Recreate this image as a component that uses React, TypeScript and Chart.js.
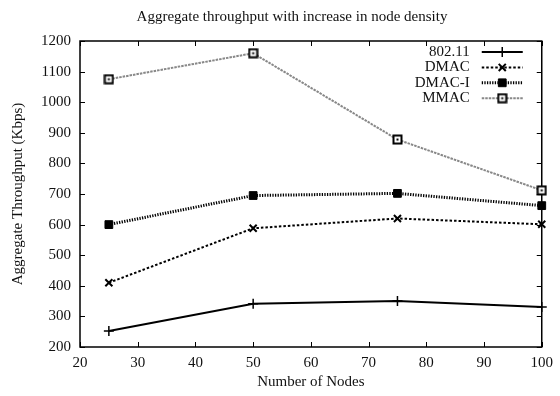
import React, { useEffect, useRef } from 'react';
import { Chart, registerables } from 'chart.js';
import { drawPoint } from 'chart.js/helpers';

Chart.register(...registerables);

const TITLE = 'Aggregate throughput with increase in node density';
const X_TITLE = 'Number of Nodes';
const Y_TITLE = 'Aggregate Throughput (Kbps)';
const nodes = [25, 50, 75, 100];
const seriesNames = ['802.11', 'DMAC', 'DMAC-I', 'MMAC'];
const values80211 = [252, 341, 350, 331];
const valuesDMAC = [410, 588, 620, 601];
const valuesDMACI = [600, 695, 702, 662];
const valuesMMAC = [1075, 1160, 878, 712];
const xTicks = { min: 20, max: 100, step: 10 };
const yTicks = { min: 200, max: 1200, step: 100 };

const FONT = '"Liberation Serif", "Times New Roman", serif';
const FS = 15;

function makeMMACMarker(): HTMLCanvasElement {
  const c = document.createElement('canvas');
  c.width = 11;
  c.height = 11;
  const g = c.getContext('2d')!;
  g.fillStyle = '#fff';
  g.fillRect(1, 1, 9, 9);
  g.strokeStyle = '#000';
  g.lineWidth = 2;
  g.strokeRect(1.5, 1.5, 8, 8);
  g.fillStyle = '#000';
  g.fillRect(4.5, 4.5, 2, 2);
  return c;
}

const framePlugin = {
  id: 'gpFrame',
  beforeDatasetsDraw(chart: any) {
    const { ctx, chartArea } = chart;
    const { left, right, top, bottom } = chartArea;
    const xs = chart.scales.x;
    const ys = chart.scales.y;
    const tl = 5;
    ctx.save();
    ctx.strokeStyle = '#000';
    ctx.lineWidth = 1;
    ctx.beginPath();
    xs.ticks.forEach((t: any) => {
      const px = Math.round(xs.getPixelForValue(t.value)) + 0.5;
      ctx.moveTo(px, bottom);
      ctx.lineTo(px, bottom - tl);
      ctx.moveTo(px, top);
      ctx.lineTo(px, top + tl);
    });
    ys.ticks.forEach((t: any) => {
      const py = Math.round(ys.getPixelForValue(t.value)) + 0.5;
      ctx.moveTo(left, py);
      ctx.lineTo(left + tl, py);
      ctx.moveTo(right, py);
      ctx.lineTo(right - tl, py);
    });
    ctx.stroke();
    ctx.lineWidth = 1.5;
    ctx.strokeRect(left, top, right - left, bottom - top);
    ctx.restore();
  },
};

const titlePlugin = {
  id: 'gpTitle',
  afterDraw(chart: any) {
    const { ctx } = chart;
    ctx.save();
    ctx.font = `${FS}px ${FONT}`;
    ctx.fillStyle = '#111';
    ctx.textAlign = 'center';
    ctx.textBaseline = 'middle';
    ctx.fillText(TITLE, 292, 17);
    ctx.restore();
  },
};

const legendPlugin = {
  id: 'gpLegend',
  afterDraw(chart: any) {
    const { ctx, chartArea } = chart;
    const r = chartArea.right;
    ctx.save();
    ctx.font = `${FS}px ${FONT}`;
    ctx.textAlign = 'right';
    ctx.textBaseline = 'middle';
    chart.data.datasets.forEach((ds: any, i: number) => {
      const y = 52 + i * 15.4;
      ctx.fillStyle = '#111';
      ctx.fillText(ds.label, r - 72, y);
      ctx.strokeStyle = ds.borderColor;
      ctx.lineWidth = ds.borderWidth;
      ctx.setLineDash(ds.borderDash || []);
      ctx.beginPath();
      ctx.moveTo(r - 60, y);
      ctx.lineTo(r - 19, y);
      ctx.stroke();
      ctx.setLineDash([]);
      ctx.fillStyle = ds.pointBackgroundColor;
      ctx.strokeStyle = ds.pointBorderColor;
      ctx.lineWidth = ds.pointBorderWidth;
      drawPoint(
        ctx,
        { pointStyle: ds.pointStyle, radius: ds.pointRadius, borderWidth: ds.pointBorderWidth, rotation: 0 },
        r - 39.5,
        y
      );
    });
    ctx.restore();
  },
};

export default function App() {
  const ref = useRef<HTMLCanvasElement>(null);
  useEffect(() => {
    const toPts = (arr: number[]) => nodes.map((x, i) => ({ x, y: arr[i] }));
    const mmacMarker = makeMMACMarker();
    const chart = new Chart(ref.current!, {
      type: 'line',
      data: {
        datasets: [
          {
            label: seriesNames[0],
            data: toPts(values80211),
            borderColor: '#000',
            borderWidth: 2,
            pointStyle: 'cross',
            pointRadius: 5,
            pointBorderWidth: 1.5,
            pointBorderColor: '#000',
            pointBackgroundColor: '#000',
            clip: false,
          },
          {
            label: seriesNames[1],
            data: toPts(valuesDMAC),
            borderColor: '#000',
            borderWidth: 2,
            borderDash: [2.5, 2],
            pointStyle: 'crossRot',
            pointRadius: 5,
            pointBorderWidth: 2,
            pointBorderColor: '#000',
            pointBackgroundColor: '#000',
            clip: false,
          },
          {
            label: seriesNames[2],
            data: toPts(valuesDMACI),
            borderColor: '#000',
            borderWidth: 3,
            borderDash: [1.3, 1.3],
            pointStyle: 'rect',
            pointRadius: 5.5,
            pointBorderWidth: 1,
            pointBorderColor: '#000',
            pointBackgroundColor: '#000',
            clip: false,
          },
          {
            label: seriesNames[3],
            data: toPts(valuesMMAC),
            borderColor: '#888',
            borderWidth: 2,
            borderDash: [2.5, 1],
            pointStyle: mmacMarker,
            pointRadius: 5,
            pointBorderWidth: 0,
            pointBorderColor: '#000',
            pointBackgroundColor: '#fff',
            clip: false,
          },
        ] as any,
      },
      options: {
        animation: false,
        responsive: false,
        maintainAspectRatio: false,
        layout: { padding: { top: 41, right: 13, left: 0, bottom: 0 } },
        plugins: {
          legend: { display: false },
          title: { display: false },
          tooltip: { enabled: false },
        },
        scales: {
          x: {
            type: 'linear',
            min: xTicks.min,
            max: xTicks.max,
            grid: { display: false, drawTicks: false },
            border: { display: false },
            ticks: {
              stepSize: xTicks.step,
              padding: 7,
              color: '#111',
              font: { family: FONT, size: FS },
              callback: (v: any) => String(v),
            },
            title: {
              display: true,
              text: X_TITLE,
              color: '#111',
              font: { family: FONT, size: FS },
              padding: { top: 0, bottom: 5 },
            },
            afterFit(scale: any) {
              scale.height = 49;
            },
          },
          y: {
            type: 'linear',
            min: yTicks.min,
            max: yTicks.max,
            grid: { display: false, drawTicks: false },
            border: { display: false },
            ticks: {
              stepSize: yTicks.step,
              padding: 9,
              color: '#111',
              font: { family: FONT, size: FS },
              callback: (v: any) => String(v),
            },
            title: {
              display: true,
              text: Y_TITLE,
              color: '#111',
              font: { family: FONT, size: FS },
              padding: { top: 9, bottom: 0 },
            },
            afterFit(scale: any) {
              scale.width = 80;
            },
          },
        },
      } as any,
      plugins: [framePlugin, titlePlugin, legendPlugin],
    });
    return () => chart.destroy();
  }, []);
  return (
    <div style={{ position: 'fixed', left: 0, top: 0, width: 560, height: 396, background: '#fff' }}>
      <canvas ref={ref} width={560} height={396} style={{ width: 560, height: 396 }} />
    </div>
  );
}
